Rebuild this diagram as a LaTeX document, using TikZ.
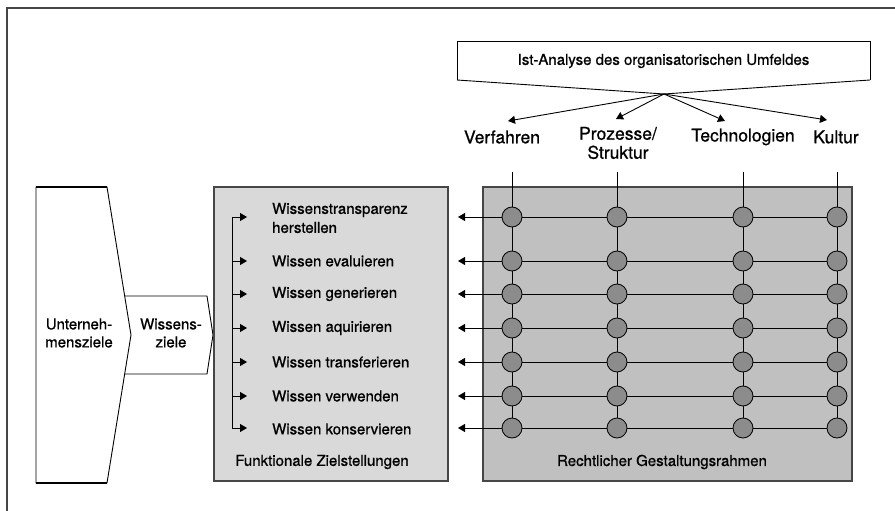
\documentclass[tikz,border=0pt]{standalone}
\usepackage{fontspec}
\setmainfont{TeX Gyre Heros}[FakeBold=0.8]
\usetikzlibrary{arrows.meta}
\definecolor{panelA}{RGB}{217,217,217}
\definecolor{panelB}{RGB}{192,192,192}
\definecolor{knot}{RGB}{140,140,140}
\definecolor{rim}{RGB}{70,70,70}
\begin{document}
\begin{tikzpicture}[x=1pt,y=-1pt,
  txt/.style={font=\fontsize{15}{16}\selectfont, inner sep=0pt, align=center},
  dimtxt/.style={font=\fontsize{17.5}{19}\selectfont, inner sep=0pt, align=center},
  ltxt/.style={txt, anchor=west, align=left},
  line/.style={black, line width=0.9pt},
  tip/.style={-{Triangle[length=7pt,width=8pt]}},
  knotnode/.style={circle, draw=black, line width=0.8pt, fill=knot, minimum size=20pt, inner sep=0pt},
  panel/.style={draw=rim, line width=1.2pt}]
\useasboundingbox (0,0) rectangle (895,511);

% frame lines along the top and left edges
\draw[color=rim, line width=2pt] (895,8) -- (7,8) -- (7,511);

% Unternehmensziele chevron
\draw[line] (36,483) -- (36,187) -- (107,187) -- (131,335) -- (107,483) -- cycle;
\draw[line width=1.8pt] (36,187) -- (107,187) (36,483) -- (107,483);
\node[txt] (uz) at (79,333) {Unterneh-\\[2pt]mensziele};

% Wissensziele chevron, nested in the notch of the first one
\draw[line] (124.7,296) -- (207,296) -- (213,335) -- (207,374) -- (124.7,374);
\node[txt] (wz) at (171,333) {Wissens-\\[2pt]ziele};

% panels
\draw[panel, fill=panelA] (214,187) rectangle (448,481);
\draw[panel, fill=panelB] (483,187) rectangle (852,481);
\node[txt] (fz) at (322,462) {Funktionale Zielstellungen};
\node[txt] (rg) at (662,462) {Rechtlicher Gestaltungsrahmen};

% Ist-Analyse box with crossing lower edges
\coordinate (bl) at (457,80);
\coordinate (br) at (870,80);
\coordinate (x) at (664,94);
\draw[line] (bl) -- (457,41) -- (870,41) -- (br);
\draw[line] (bl) -- (x) -- (br);
\node[txt] (ist) at (663.5,61) {Ist-Analyse des organisatorischen Umfeldes};

% dimension labels
\node[dimtxt] (d1) at (502,137) {Verfahren};
\node[dimtxt] (d2) at (618,143) {Prozesse/\\Struktur};
\node[dimtxt] (d3) at (743,137) {Technologien};
\node[dimtxt] (d4) at (836,137) {Kultur};
\coordinate (t1) at (508,121);
\coordinate (t2) at (616,119);
\coordinate (t3) at (725,121);
\coordinate (t4) at (827,120);
\foreach \k in {1,...,4} \draw[line, tip] (x) -- (t\k);

% grid of knots
\def\colxs{512,617,743,837}
\def\rowys{217,261,294,328,362,396,428}
\foreach \c [count=\j] in \colxs {
  \coordinate (top-\j) at (\c,172);
  \foreach \r [count=\i] in \rowys
    \coordinate (g-\i-\j) at (\c,\r);
}
\foreach \r [count=\i] in \rowys {
  \coordinate (al-\i) at (458,\r);
  \coordinate (bs-\i) at (232,\r);
  \coordinate (bt-\i) at (247,\r);
}
% columns
\foreach \j in {1,...,4} \draw[line] (top-\j) -- (g-7-\j);
% rows, each ending in an arrow into the left panel
\foreach \i in {1,...,7} \draw[line, tip] (g-\i-4) -- (al-\i);
% knots on top of the lines
\foreach \i in {1,...,7}
  \foreach \j in {1,...,4}
    \node[knotnode] (c-\i-\j) at (g-\i-\j) {};

% bracket with arrows to the functional goals
\draw[line] (bs-1) -- (bs-7);
\foreach \i in {1,...,7} \draw[line, tip] (bs-\i) -- (bt-\i);

% functional goals
\node[ltxt] (f1) at (272,218) {Wissenstransparenz\\[3pt]herstellen};
\node[ltxt] (f2) at (272,261) {Wissen evaluieren};
\node[ltxt] (f3) at (272,294) {Wissen generieren};
\node[ltxt] (f4) at (272,328) {Wissen aquirieren};
\node[ltxt] (f5) at (272,362) {Wissen transferieren};
\node[ltxt] (f6) at (272,396) {Wissen verwenden};
\node[ltxt] (f7) at (272,429) {Wissen konservieren};
\end{tikzpicture}
\end{document}
